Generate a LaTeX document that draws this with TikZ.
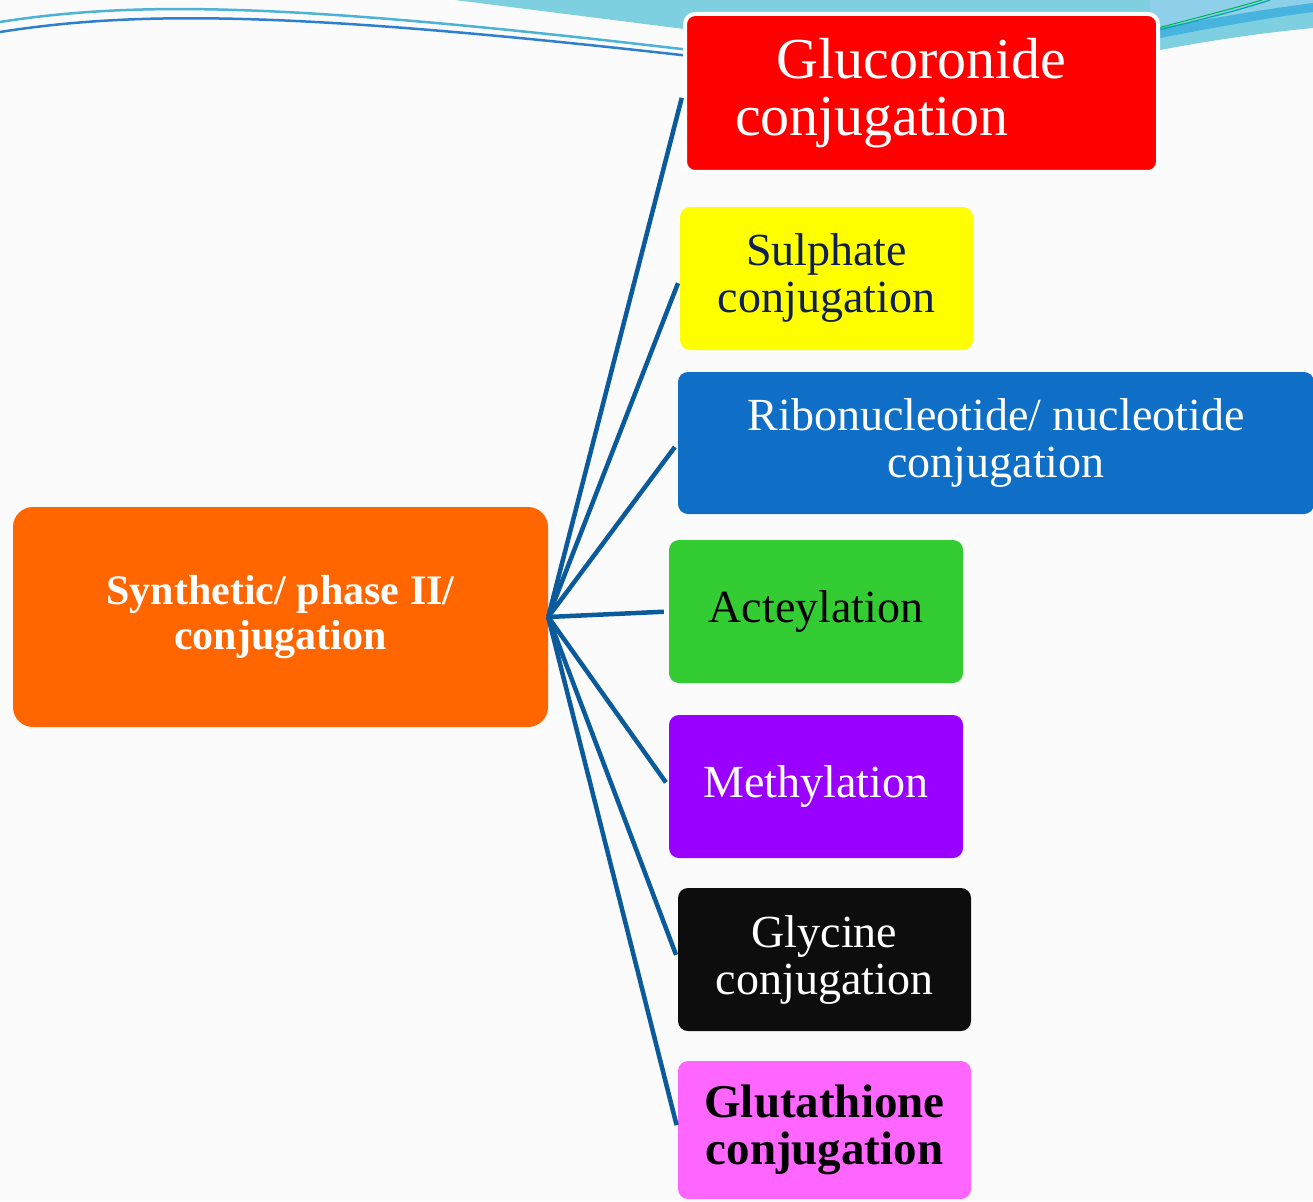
\documentclass[tikz,border=0pt]{standalone}
\usepackage{fontspec}
\setmainfont{Liberation Serif}
\newcommand\fsz[2]{\fontsize{#1}{#2}\selectfont}
\definecolor{lb}{HTML}{7ECFE0}
\definecolor{pb}{HTML}{8ECFEA}
\definecolor{db}{HTML}{46B4DE}
\definecolor{conn}{HTML}{0B5A9C}
\definecolor{cora}{HTML}{FF6600}
\definecolor{cyel}{HTML}{FFFF00}
\definecolor{cred}{HTML}{FF0000}
\definecolor{cblue}{HTML}{0F6FC6}
\definecolor{cgreen}{HTML}{33CC33}
\definecolor{cpurp}{HTML}{9900FF}
\definecolor{cblack}{HTML}{0D0D0D}
\definecolor{cpink}{HTML}{FF66FF}
\definecolor{navy}{HTML}{0F1F50}
\definecolor{curveA}{HTML}{4DB3D6}
\definecolor{curveB}{HTML}{2F7FCF}
\begin{document}
\begin{tikzpicture}[x=1pt,y=-1pt,
  box/.style={rounded corners=10pt, align=center, inner sep=0pt, minimum height=143pt, minimum width=293pt, font=\fsz{46}{47}},
  link/.style={draw=conn, line width=4.5pt, shorten >=5pt}]
\useasboundingbox (0,0) rectangle (1313,1201);
\fill[white!97!gray] (0,0) rectangle (1313,1201);
% decorative top swoosh
\fill[lb] (455,0) -- (700,31) -- (1150,52) .. controls (1200,42) and (1260,33) .. (1313,28) -- (1313,0) -- cycle;
\fill[pb] (1150,0) -- (1313,0) -- (1313,3) .. controls (1260,10) and (1200,20) .. (1150,30) -- cycle;
\fill[db] (1150,30) .. controls (1200,20) and (1260,10) .. (1313,3) -- (1313,12) .. controls (1260,19) and (1200,30) .. (1150,40) -- cycle;
\draw[teal!70!cyan, line width=1.2pt] (1150,32) .. controls (1200,20) and (1240,10) .. (1270,0);
\draw[teal!60!green, line width=1pt] (1150,30) .. controls (1200,17) and (1235,8) .. (1262,0);
\draw[curveA, line width=2.5pt] (0,22) .. controls (140,0) and (300,4) .. (690,50);
\draw[curveB, line width=2.5pt] (0,32) .. controls (140,10) and (300,12) .. (690,56);
% nodes
\node[fill=cora, rounded corners=20pt, minimum width=535pt, minimum height=220pt, inner sep=0pt, align=center, text=white, font=\fsz{42}{45}\bfseries] (main) at (280.5,617) {Synthetic/ phase II/\\conjugation};
\node[box, fill=cred, draw=white, line width=4pt, minimum width=473pt, minimum height=158pt, text=white, font=\fsz{58}{57}] (glu) at (921.5,93) {Glucoronide\\\makebox[373pt][l]{conjugation}};
\node[box, fill=cyel, text=navy] (sul) at (826.5,278.5) {Sulphate\\conjugation};
\node[box, fill=cblue, minimum width=636pt, minimum height=142pt, text=white] (rib) at (996,443) {Ribonucleotide/ nucleotide\\conjugation};
\node[box, fill=cgreen, minimum width=294pt, text=black] (ace) at (816,611.5) {Acteylation};
\node[box, fill=cpurp, minimum width=294pt, text=white] (met) at (816,786.5) {Methylation};
\node[box, fill=cblack, text=white] (gly) at (824.5,959.5) {Glycine\\conjugation};
\node[box, fill=cpink, minimum height=138pt, text=black, font=\fsz{47}{47}\bfseries] (glt) at (824.5,1130) {Glutathione\\conjugation};
% connectors
\coordinate (hub) at (main.east);
\foreach \t in {glu,sul,rib,ace,met,gly,glt}
  \draw[link] (hub) -- (\t.west);
\end{tikzpicture}
\end{document}
